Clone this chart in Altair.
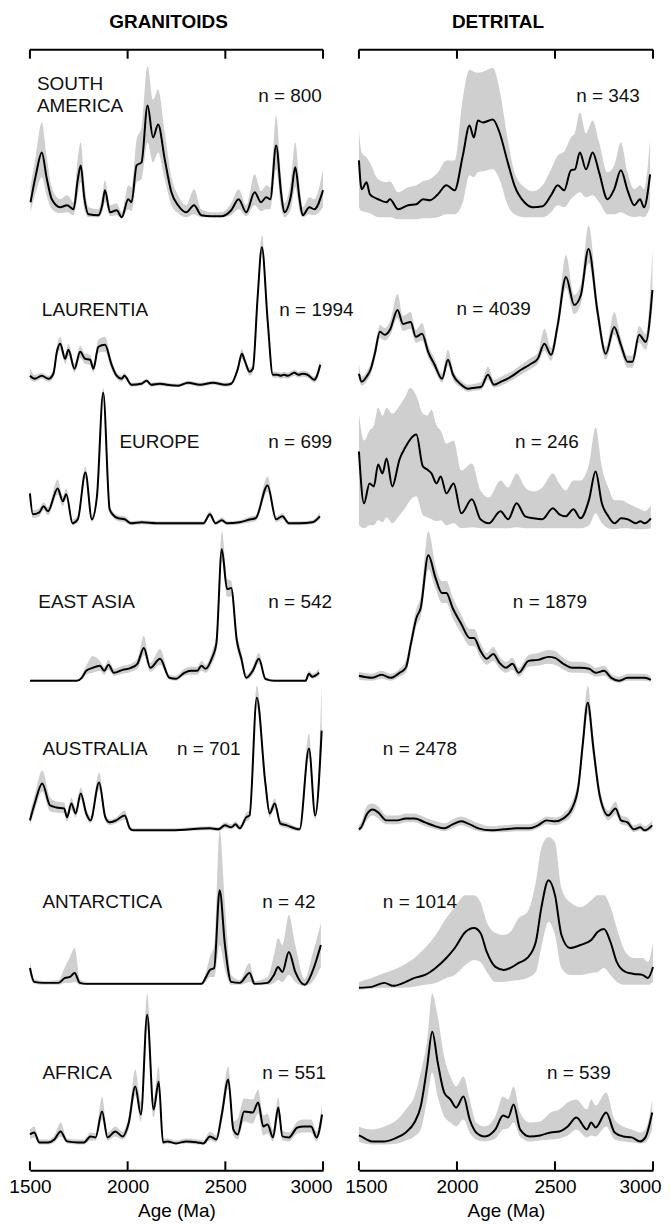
import altair as alt
import pandas as pd

# ---------------------------------------------------------------
# Data: each panel is a list of (age Ma, mean, lower, upper)
# (relative probability density, arbitrary units)
# ---------------------------------------------------------------
SA_GRAN = [(1503, 15, 5, 30), (1530, 42, 25, 62), (1561, 65, 40, 95), (1585, 40, 22, 62),
           (1612, 18, 8, 30), (1655, 10, 4, 18), (1690, 12, 5, 22), (1723, 8, 2, 15),
           (1745, 38, 22, 60), (1760, 52, 35, 75), (1778, 20, 8, 35), (1800, 3, 0, 10),
           (1850, 2, 0, 8), (1870, 12, 5, 22), (1884, 27, 15, 37), (1910, 5, 1, 12),
           (1944, 7, 2, 14), (1970, 0, -1, 5), (2003, 18, 8, 32), (2020, 15, 6, 30),
           (2046, 52, 35, 78), (2071, 55, 38, 90), (2102, 112, 75, 152), (2130, 80, 55, 118),
           (2156, 93, 65, 128), (2190, 58, 38, 85), (2224, 25, 12, 40), (2258, 12, 4, 22),
           (2300, 5, 0, 12), (2340, 12, 3, 28), (2377, 2, 0, 8), (2428, 1, 0, 5),
           (2480, 1, 0, 5), (2530, 7, 2, 14), (2568, 18, 8, 28), (2607, 5, 1, 12),
           (2650, 25, 12, 43), (2683, 15, 6, 26), (2709, 20, 8, 32), (2730, 18, 8, 30),
           (2760, 72, 48, 102), (2785, 25, 10, 42), (2802, 5, 0, 14), (2836, 22, 8, 38),
           (2858, 50, 30, 75), (2880, 18, 6, 32), (2896, 2, 0, 10), (2930, 10, 3, 20),
           (2955, 8, 2, 18), (3000, 27, 10, 48)]
LAUR_GRAN = [(1500, 12, 8, 20), (1525, 9, 6, 13), (1560, 12, 9, 15), (1595, 9, 6, 12),
             (1620, 14, 10, 18), (1638, 36, 30, 42), (1655, 44, 38, 51), (1680, 29, 24, 34),
             (1697, 38, 32, 44), (1728, 19, 15, 24), (1757, 36, 30, 42), (1782, 29, 24, 34),
             (1808, 28, 23, 33), (1825, 19, 15, 24), (1850, 41, 35, 48), (1884, 43, 36, 51),
             (1918, 23, 18, 28), (1944, 12, 9, 15), (1970, 9, 6, 12), (1983, 12, 9, 15),
             (2020, 3, 1, 5), (2070, 4, 2, 6), (2097, 7, 5, 9), (2120, 3, 1, 5),
             (2165, 4, 2, 6), (2200, 3, 1, 5), (2260, 2, 1, 4), (2309, 5, 3, 7),
             (2370, 3, 1, 5), (2437, 5, 3, 7), (2500, 3, 1, 5), (2530, 4, 2, 6),
             (2564, 19, 15, 23), (2585, 34, 29, 39), (2598, 28, 24, 32), (2624, 16, 12, 20),
             (2641, 19, 15, 23), (2665, 90, 84, 96), (2687, 141, 134, 153), (2717, 66, 60, 72),
             (2743, 13, 10, 16), (2765, 13, 10, 16), (2785, 12, 9, 15), (2800, 13, 10, 16),
             (2820, 12, 9, 15), (2853, 15, 12, 18), (2875, 13, 10, 16), (2896, 14, 11, 17),
             (2921, 13, 10, 16), (2955, 8, 5, 11), (2986, 23, 18, 28)]
EUR_GRAN = [(1500, 32, 26, 38), (1515, 11, 7, 15), (1548, 13, 9, 17), (1570, 19, 15, 23),
            (1592, 14, 10, 18), (1642, 37, 31, 46), (1668, 24, 19, 29), (1686, 31, 26, 37),
            (1718, 2, 0, 6), (1745, 6, 3, 10), (1784, 53, 47, 59), (1817, 6, 3, 10),
            (1843, 29, 24, 34), (1875, 133, 128, 138), (1908, 16, 12, 20), (1923, 11, 8, 14),
            (1952, 7, 4, 10), (1985, 6, 3, 9), (2017, 2, 0, 4), (2072, 3, 1, 5),
            (2150, 2, 0, 4), (2225, 2, 0, 4), (2300, 2, 0, 4), (2388, 2, 0, 4),
            (2421, 11, 8, 14), (2450, 2, 0, 4), (2482, 5, 3, 8), (2508, 2, 0, 4),
            (2574, 3, 1, 5), (2629, 6, 3, 9), (2655, 7, 4, 10), (2716, 40, 34, 49),
            (2760, 6, 3, 9), (2792, 9, 6, 12), (2825, 2, 0, 4), (2880, 2, 0, 4),
            (2945, 3, 1, 5), (2984, 9, 6, 13)]
EASIA_GRAN = [(1500, 0, 0, 1), (1740, 0, 0, 1), (1765, 3, 1, 6), (1788, 10, 6, 15),
              (1821, 13, 8, 25), (1858, 15, 10, 20), (1880, 10, 6, 14), (1902, 16, 11, 21),
              (1930, 8, 5, 12), (1974, 11, 7, 15), (2017, 13, 9, 17), (2050, 17, 12, 22),
              (2083, 33, 26, 45), (2116, 13, 9, 18), (2166, 22, 16, 32), (2214, 3, 1, 6),
              (2247, 2, 0, 5), (2290, 8, 5, 12), (2323, 10, 6, 14), (2356, 10, 6, 14),
              (2378, 15, 10, 20), (2399, 12, 8, 16), (2432, 23, 17, 30), (2454, 37, 30, 46),
              (2482, 132, 120, 150), (2509, 92, 84, 102), (2530, 93, 85, 100), (2559, 40, 33, 48),
              (2581, 23, 18, 30), (2607, 3, 1, 6), (2640, 10, 6, 14), (2672, 22, 17, 28),
              (2705, 2, 0, 4), (2749, 0, 0, 1), (2910, 0, 0, 1), (2928, 7, 4, 10),
              (2945, 4, 2, 7), (2980, 8, 5, 12)]
AUS_GRAN = [(1500, 11, 6, 18), (1526, 29, 22, 38), (1563, 48, 40, 61), (1603, 26, 20, 34),
            (1635, 24, 19, 30), (1675, 23, 18, 29), (1690, 14, 10, 19), (1712, 28, 22, 34),
            (1734, 18, 14, 23), (1760, 38, 32, 44), (1788, 18, 14, 23), (1810, 11, 8, 15),
            (1854, 49, 42, 59), (1886, 14, 10, 18), (1908, 9, 6, 12), (1941, 11, 8, 14),
            (1985, 16, 12, 21), (2011, 3, 1, 6), (2028, 1, 0, 3), (2225, 1, 0, 3),
            (2421, 3, 1, 5), (2465, 2, 0, 4), (2498, 6, 3, 9), (2530, 4, 2, 7),
            (2552, 7, 4, 10), (2574, 3, 1, 6), (2607, 14, 10, 19), (2624, 16, 12, 21),
            (2661, 134, 124, 146), (2705, 48, 42, 56), (2727, 18, 14, 23), (2753, 28, 23, 33),
            (2781, 8, 5, 12), (2814, 6, 3, 9), (2880, 2, 0, 4), (2928, 83, 74, 98),
            (2960, 16, 12, 22), (2993, 101, 88, 146)]
ANT_GRAN = [(1500, 17, 10, 24), (1522, 3, 1, 6), (1570, 2, 0, 4), (1646, 2, 0, 5),
            (1679, 7, 2, 18), (1705, 8, 2, 28), (1729, 12, 3, 37), (1755, 2, 0, 6),
            (1788, 1, 0, 3), (2378, 1, 0, 3), (2399, 7, 3, 12), (2421, 15, 8, 28),
            (2443, 17, 8, 40), (2471, 95, 40, 155), (2498, 40, 15, 80), (2530, 3, 0, 10),
            (2574, 2, 0, 5), (2624, 12, 3, 22), (2650, 1, 0, 4), (2716, 2, 0, 8),
            (2749, 10, 2, 30), (2770, 18, 5, 47), (2792, 13, 3, 40), (2825, 33, 10, 70),
            (2858, 13, 3, 40), (2906, 0, -1, 6), (2945, 13, 3, 30), (2989, 40, 18, 62)]
AFR_GRAN = [(1500, 9, 4, 14), (1522, 11, 6, 17), (1548, 1, -1, 4), (1592, 1, -1, 4),
            (1625, 4, 1, 8), (1657, 12, 7, 21), (1690, 2, 0, 5), (1745, 1, -1, 4),
            (1777, 1, -1, 4), (1810, 7, 3, 11), (1836, 6, 3, 10), (1869, 32, 24, 47),
            (1897, 6, 3, 11), (1937, 12, 7, 17), (1974, 7, 4, 12), (2006, 21, 14, 28),
            (2039, 57, 48, 74), (2068, 29, 22, 42), (2100, 129, 115, 150), (2133, 34, 26, 45),
            (2159, 62, 52, 77), (2181, 1, -1, 5), (2203, 2, 0, 5), (2247, 0, -1, 3),
            (2301, 2, 0, 5), (2356, 1, -1, 4), (2388, 0, -1, 3), (2421, 7, 3, 12),
            (2454, 4, 1, 8), (2482, 29, 22, 38), (2515, 64, 55, 77), (2541, 14, 8, 22),
            (2563, 9, 4, 25), (2596, 32, 22, 45), (2640, 31, 20, 44), (2668, 41, 30, 54),
            (2694, 17, 8, 28), (2716, 19, 10, 30), (2744, 6, 2, 14), (2771, 36, 26, 46),
            (2792, 7, 3, 13), (2825, 6, 2, 11), (2869, 16, 10, 22), (2901, 17, 11, 24),
            (2939, 17, 11, 24), (2967, 6, 2, 12), (2995, 29, 20, 40)]

SA_DET = [(1500, 57, 10, 88), (1514, 28, 6, 65), (1539, 35, 5, 60), (1556, 23, 4, 55),
          (1598, 18, 0, 38), (1640, 15, 0, 35), (1658, 18, 0, 36), (1700, 8, -2, 25),
          (1751, 12, -2, 30), (1793, 13, -2, 32), (1827, 18, -1, 36), (1861, 17, -1, 38),
          (1903, 23, 0, 45), (1946, 32, 3, 57), (1988, 27, 3, 57), (2030, 62, 15, 120),
          (2064, 92, 42, 148), (2086, 80, 40, 146), (2107, 97, 45, 145), (2132, 95, 46, 146),
          (2183, 98, 48, 150), (2217, 85, 38, 128), (2259, 55, 12, 78), (2293, 32, 3, 45),
          (2344, 15, 0, 30), (2387, 10, 0, 26), (2437, 11, 0, 32), (2480, 22, 5, 48),
          (2514, 32, 12, 62), (2547, 27, 10, 66), (2581, 47, 18, 80), (2602, 48, 22, 85),
          (2627, 65, 25, 105), (2658, 48, 20, 84), (2692, 65, 22, 97), (2725, 45, 15, 75),
          (2768, 18, 3, 45), (2802, 28, 3, 52), (2836, 47, 5, 75), (2870, 27, 2, 45),
          (2904, 12, 0, 28), (2934, 18, 1, 32), (2954, 10, 0, 28), (2985, 43, 10, 78)]
LAUR_DET = [(1500, 14, 8, 24), (1514, 6, 2, 11), (1539, 11, 6, 16), (1561, 19, 14, 25),
            (1581, 34, 28, 40), (1607, 56, 50, 63), (1632, 53, 47, 60), (1658, 58, 52, 66),
            (1697, 78, 70, 94), (1725, 64, 57, 72), (1764, 66, 59, 76), (1790, 51, 45, 58),
            (1822, 54, 47, 65), (1853, 36, 30, 43), (1886, 23, 18, 29), (1924, 9, 5, 14),
            (1954, 28, 22, 38), (1980, 13, 8, 18), (2022, 3, 0, 7), (2056, -1, -4, 3),
            (2090, 0, -3, 4), (2124, 1, -2, 6), (2158, 13, 8, 21), (2188, 3, 0, 8),
            (2225, 6, 2, 11), (2276, 11, 7, 16), (2327, 18, 13, 23), (2378, 24, 19, 30),
            (2412, 29, 24, 35), (2446, 44, 37, 59), (2480, 33, 27, 40), (2514, 63, 55, 72),
            (2556, 111, 100, 133), (2598, 83, 74, 93), (2632, 93, 84, 104), (2671, 139, 125, 163),
            (2717, 76, 67, 86), (2759, 34, 28, 41), (2802, 61, 53, 76), (2836, 43, 36, 50),
            (2870, 26, 20, 32), (2895, 26, 20, 32), (2929, 53, 45, 62), (2963, 46, 38, 54),
            (2997, 98, 80, 138)]
EUR_DET = [(1500, 74, 0, 112), (1526, 22, -3, 85), (1554, 42, 0, 95), (1576, 39, 0, 100),
           (1598, 61, 5, 118), (1620, 52, 3, 110), (1641, 67, 8, 118), (1670, 39, 2, 112),
           (1707, 66, 10, 120), (1739, 79, 18, 130), (1761, 86, 25, 138), (1793, 91, 29, 130),
           (1826, 59, 10, 112), (1848, 56, 8, 110), (1870, 52, 6, 116), (1896, 42, 4, 100),
           (1917, 49, 5, 95), (1946, 32, 0, 82), (1983, 42, 2, 85), (2022, 12, -3, 55),
           (2076, 26, -2, 62), (2120, 6, -3, 35), (2163, 2, -3, 28), (2222, 14, -3, 45),
           (2261, 6, -3, 38), (2304, 22, -2, 52), (2348, 9, -3, 38), (2391, 7, -3, 34),
           (2435, 6, -3, 38), (2489, 17, -3, 52), (2522, 11, -3, 42), (2554, 9, -3, 35),
           (2594, 16, -3, 45), (2630, 7, -3, 45), (2674, 26, 0, 62), (2707, 54, 12, 98),
           (2739, 22, 2, 58), (2772, 9, -3, 38), (2804, 2, -4, 25), (2837, 7, -3, 25),
           (2870, 6, -3, 22), (2913, 2, -4, 18), (2935, 4, -4, 16), (2957, 2, -4, 14),
           (2989, 7, -3, 20)]
EASIA_DET = [(1500, 5, 1, 9), (1565, 3, 0, 7), (1615, 6, 2, 10), (1663, 3, 0, 7),
             (1707, 8, 4, 12), (1739, 13, 8, 20), (1765, 37, 30, 45), (1793, 63, 55, 72),
             (1815, 73, 64, 84), (1854, 126, 112, 150), (1891, 103, 92, 115), (1924, 88, 78, 100),
             (1946, 88, 78, 100), (1978, 73, 63, 84), (2022, 57, 48, 66), (2065, 43, 35, 52),
             (2087, 43, 35, 52), (2120, 30, 23, 38), (2152, 22, 16, 28), (2185, 27, 20, 34),
             (2217, 18, 12, 24), (2250, 13, 8, 19), (2283, 17, 11, 23), (2315, 8, 4, 13),
             (2365, 20, 14, 26), (2413, 21, 15, 28), (2467, 24, 17, 31), (2500, 23, 16, 30),
             (2543, 17, 11, 23), (2587, 13, 8, 19), (2630, 13, 8, 19), (2674, 12, 7, 17),
             (2707, 8, 4, 13), (2750, 10, 5, 15), (2787, 3, 0, 7), (2826, 0, -2, 4),
             (2870, 3, 0, 7), (2913, 3, 0, 7), (2957, 3, 0, 7), (2989, 1, -1, 4)]
AUS_DET = [(1500, 2, 0, 6), (1511, 4, 1, 9), (1543, 18, 12, 26), (1570, 22, 16, 28),
           (1598, 19, 13, 25), (1641, 11, 7, 16), (1696, 11, 7, 16), (1739, 13, 9, 18),
           (1783, 13, 9, 18), (1837, 9, 5, 14), (1891, 5, 2, 10), (1935, 3, 0, 8),
           (1978, 7, 3, 12), (2022, 10, 6, 15), (2054, 8, 4, 13), (2109, 3, 0, 8),
           (2174, 1, -1, 5), (2239, 2, -1, 6), (2304, 3, 0, 7), (2370, 3, 0, 7),
           (2413, 6, 3, 10), (2457, 11, 7, 15), (2500, 10, 6, 14), (2543, 13, 9, 18),
           (2587, 23, 17, 30), (2620, 46, 38, 55), (2641, 86, 76, 98), (2667, 129, 118, 146),
           (2696, 83, 73, 95), (2728, 36, 30, 43), (2772, 16, 11, 21), (2809, 23, 17, 30),
           (2837, 11, 7, 16), (2870, 9, 5, 14), (2902, 2, -1, 6), (2935, 4, 1, 8),
           (2957, 1, -1, 5), (2996, 6, 2, 11)]
ANT_DET = [(1500, -3, -5, 3), (1565, -2, -4, 7), (1630, 2, -3, 12), (1674, -1, -3, 15),
           (1728, 2, -3, 20), (1783, 7, -2, 27), (1837, 10, 0, 37), (1891, 17, 2, 50),
           (1946, 27, 7, 67), (1989, 37, 10, 78), (2043, 53, 20, 90), (2087, 57, 25, 90),
           (2120, 52, 23, 83), (2152, 33, 13, 63), (2196, 18, 3, 52), (2239, 15, 3, 50),
           (2272, 17, 4, 53), (2315, 22, 5, 67), (2359, 27, 7, 73), (2402, 43, 13, 103),
           (2430, 77, 37, 137), (2467, 105, 63, 148), (2500, 90, 50, 143), (2533, 50, 17, 97),
           (2576, 37, 10, 83), (2630, 40, 10, 78), (2685, 45, 12, 85), (2717, 53, 13, 90),
           (2750, 56, 17, 90), (2783, 43, 10, 78), (2815, 23, 3, 57), (2859, 13, 0, 33),
           (2902, 11, 0, 27), (2946, 10, 0, 27), (2974, 7, 0, 23), (3000, 18, 3, 43)]
AFR_DET = [(1500, 8, 2, 17), (1511, 7, 1, 16), (1565, 2, -1, 14), (1630, 2, -1, 17),
           (1696, 6, 0, 24), (1739, 11, 3, 34), (1783, 21, 7, 47), (1815, 37, 14, 71),
           (1848, 77, 44, 104), (1874, 112, 71, 150), (1902, 81, 47, 127), (1935, 51, 27, 87),
           (1967, 44, 21, 67), (1996, 36, 17, 57), (2033, 47, 24, 67), (2065, 24, 11, 44),
           (2098, 11, 4, 21), (2141, 7, 2, 17), (2196, 14, 5, 27), (2235, 28, 14, 47),
           (2261, 26, 15, 44), (2289, 39, 21, 57), (2322, 14, 7, 31), (2370, 7, 2, 21),
           (2424, 8, 3, 22), (2478, 11, 4, 31), (2522, 12, 5, 34), (2565, 17, 8, 41),
           (2609, 26, 14, 44), (2663, 14, 6, 34), (2685, 21, 8, 44), (2707, 16, 7, 38),
           (2761, 31, 17, 51), (2804, 11, 4, 24), (2848, 7, 2, 17), (2891, 6, 1, 14),
           (2935, 2, 0, 11), (2961, 6, 1, 14), (2996, 31, 14, 44)]

REGION_NAMES = ["SOUTH\nAMERICA", "LAURENTIA", "EUROPE", "EAST ASIA",
                "AUSTRALIA", "ANTARCTICA", "AFRICA"]
GRAN_N = ["n = 800", "n = 1994", "n = 699", "n = 542", "n = 701", "n = 42", "n = 551"]
DET_N = ["n = 343", "n = 4039", "n = 246", "n = 1879", "n = 2478", "n = 1014", "n = 539"]
AGE_TICKS = [1500, 2000, 2500, 3000]

GRAN_PANELS = [SA_GRAN, LAUR_GRAN, EUR_GRAN, EASIA_GRAN, AUS_GRAN, ANT_GRAN, AFR_GRAN]
DET_PANELS = [SA_DET, LAUR_DET, EUR_DET, EASIA_DET, AUS_DET, ANT_DET, AFR_DET]

# ---------------------------------------------------------------
# Layout (kept apart from the data)
# ---------------------------------------------------------------
PLOT_H = 1124
ROW_BASE = [956, 785, 647, 491, 340, 186, 27]       # baseline of each row, plot units
NAME_POS = [(1536, 133.5), (1561, 77.5), (1958, 84), (1543, 79),
            (1564, 83), (1564, 83), (1564, 71)]
GRAN_N_POS = [(2668, 122), (2776, 78), (2720, 84), (2720, 79),
              (2252, 83), (2689, 83), (2689, 71)]
DET_N_POS = [(2608, 122), (1998, 79), (2296, 84), (2285, 79),
             (1622, 83), (1622, 83), (2459, 71)]
LINE_STEP = 21.5
FONT = "Liberation Sans, Arial, Helvetica, sans-serif"
GRAY = "#cfcfcf"


def column(panels, names, name_pos, n_texts, n_pos, title, width, off_first, off_last):
    rows = []
    for r, (panel, base) in enumerate(zip(panels, ROW_BASE)):
        for age, m, lo, hi in panel:
            rows.append({"row": r, "age": age, "mean": base + m,
                         "lo": base + lo, "hi": base + hi})
    df = pd.DataFrame(rows)

    labels = []
    for r, base in enumerate(ROW_BASE):
        if names is not None:
            a, h = name_pos[r]
            for k, part in enumerate(names[r].split("\n")):
                labels.append({"age": a, "y": base + h - k * LINE_STEP, "label": part})
        a, h = n_pos[r]
        labels.append({"age": a, "y": base + h, "label": n_texts[r]})
    lab_df = pd.DataFrame(labels)

    xs = alt.Scale(domain=[1500, 3000], nice=False, zero=False)
    ys = alt.Scale(domain=[0, PLOT_H], nice=False, zero=False)
    x_axis = alt.Axis(
        values=AGE_TICKS, format="d", ticks=False, grid=False, labelFlush=False,
        domain=True, domainColor="black", domainWidth=2,
        labelFontSize=19, labelFont=FONT, labelColor="black", labelPadding=7,
        labelOffset={"condition": [{"test": "datum.value == 1500", "value": off_first},
                                   {"test": "datum.value == 3000", "value": off_last}],
                     "value": 0},
        title="Age (Ma)", titleFontSize=19, titleFont=FONT, titleFontWeight="normal",
        titleColor="black", titlePadding=5,
    )

    def X(field):
        return alt.X(field, type="quantitative", scale=xs, axis=x_axis)

    band = alt.Chart(df).mark_area(color=GRAY, opacity=1, interpolate="monotone").encode(
        x=X("age"), y=alt.Y("lo:Q", scale=ys, axis=None), y2="hi:Q", detail="row:N")
    line = alt.Chart(df).mark_line(color="black", strokeWidth=2,
                                   interpolate="monotone").encode(
        x=X("age"), y=alt.Y("mean:Q", scale=ys, axis=None), detail="row:N")
    text = alt.Chart(lab_df).mark_text(
        align="left", baseline="middle", fontSize=19, font=FONT, color="#111111").encode(
        x=X("age"), y=alt.Y("y:Q", scale=ys, axis=None), text="label:N")

    tick_df = pd.DataFrame({"age": AGE_TICKS})
    top_ticks = alt.Chart(tick_df).mark_rule(color="black", strokeWidth=2).encode(
        x=X("age"), y=alt.value(0), y2=alt.value(9))
    bot_ticks = alt.Chart(tick_df).mark_rule(color="black", strokeWidth=2).encode(
        x=X("age"), y=alt.value(PLOT_H - 9), y2=alt.value(PLOT_H))
    span_df = pd.DataFrame({"a": [AGE_TICKS[0]], "b": [AGE_TICKS[-1]]})
    top_line = alt.Chart(span_df).mark_rule(color="black", strokeWidth=2).encode(
        x=X("a"), x2="b:Q", y=alt.value(0))

    return alt.layer(band, line, text, top_line, top_ticks, bot_ticks).properties(
        width=width, height=PLOT_H,
        title=alt.TitleParams(title, fontSize=19, fontWeight="bold", font=FONT,
                              color="black", offset=17, dx=-8, anchor="middle"),
    )


left = column(GRAN_PANELS, REGION_NAMES, NAME_POS, GRAN_N, GRAN_N_POS,
              "GRANITOIDS", 294, 0, -12)
right = column(DET_PANELS, None, None, DET_N, DET_N_POS,
               "DETRITAL", 295, 7, -13)

chart = alt.hconcat(left, right, spacing=36, bounds="flush").properties(
    padding={"left": 0, "top": 3, "right": 0, "bottom": 0}
).configure_view(stroke=None)

chart.save("out.html", embed_options={"renderer": "svg", "actions": False})
